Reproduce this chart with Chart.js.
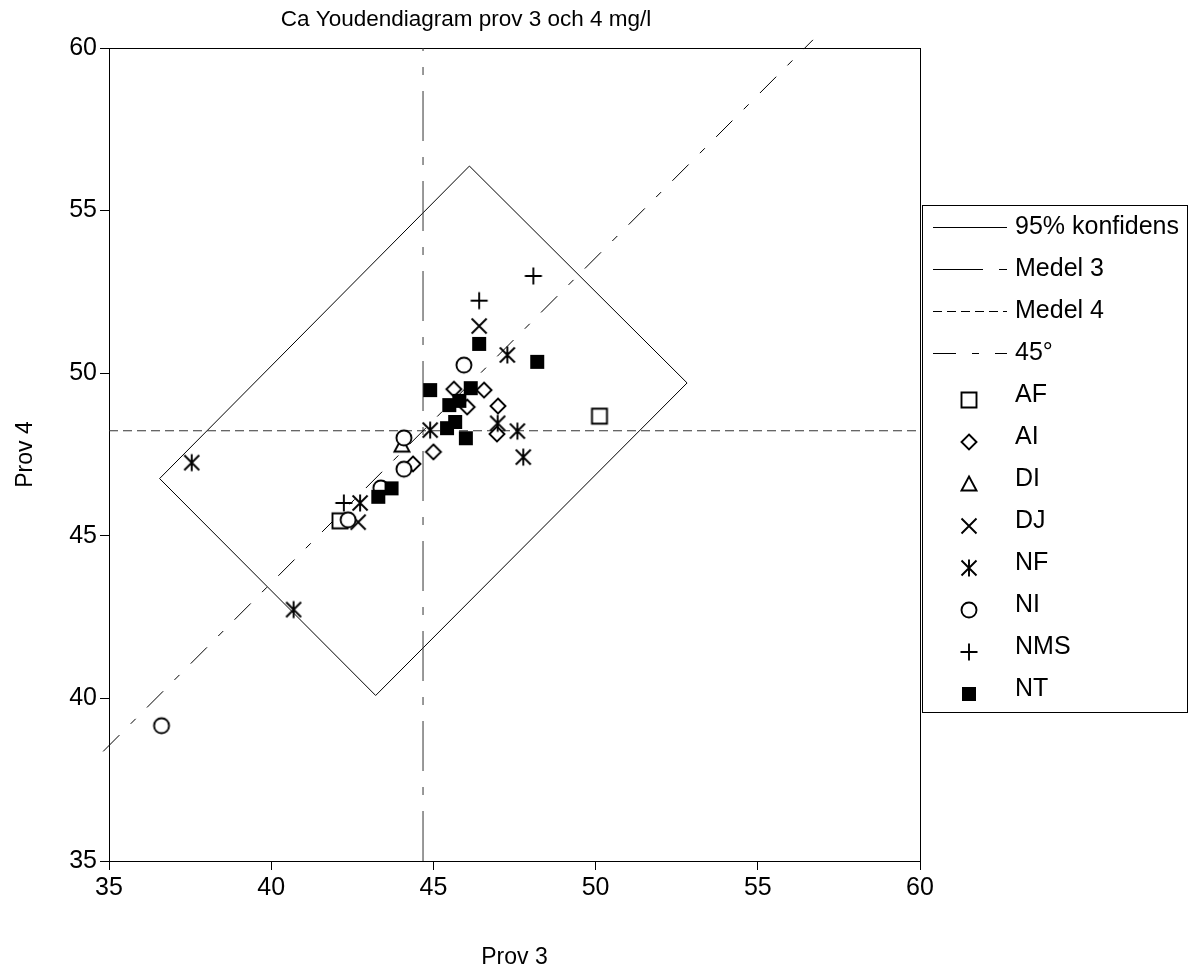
<!DOCTYPE html>
<html>
<head>
<meta charset="utf-8">
<title>Ca Youdendiagram</title>
<script src="https://cdn.jsdelivr.net/npm/chart.js"></script>
<style>
  html, body { margin: 0; padding: 0; background: #fff; }
  #wrap { width: 1192px; height: 979px; }
</style>
</head>
<body>
<div id="wrap"><canvas id="youden"></canvas></div>
<script>
// Youdendiagram för Ca, prov 3 mot prov 4 (mg/l)

const titleText = 'Ca Youdendiagram prov 3 och 4 mg/l';
const xTitle = 'Prov 3';
const yTitle = 'Prov 4';
const axisMin = 35, axisMax = 60, axisStep = 5;

// medelvärden för proverna
const medel3 = 44.68;
const medel4 = 48.23;

// 95% konfidens, rektangelns hörn (sluten kurva)
const konfX = [46.11, 52.82, 43.22, 36.56, 46.11];
const konfY = [56.37, 49.70, 40.09, 46.76, 56.37];

// 45° linjen genom medelpunkten
const linje45X = [34.82, 56.70];
const linje45Y = [38.37, 60.25];

// laboratoriernas resultat
const afX = [50.12, 42.12];
const afY = [48.68, 45.46];

const aiX = [45.63, 46.56, 46.04, 46.99, 45.00, 44.37, 46.96];
const aiY = [49.51, 49.48, 48.96, 48.99, 47.58, 47.21, 48.13];

const diX = [44.03];
const diY = [47.79];

const djX = [46.41, 42.68];
const djY = [51.45, 45.42];

const nfX = [37.55, 40.69, 44.90, 46.98, 47.59, 47.77, 47.28, 42.74];
const nfY = [47.25, 42.73, 48.25, 48.46, 48.22, 47.42, 50.56, 46.01];

const niX = [36.62, 45.94, 44.09, 44.09, 42.37, 43.38];
const niY = [39.16, 50.25, 48.01, 47.05, 45.49, 46.47];

const nmsX = [48.08, 46.41, 42.24];
const nmsY = [52.99, 52.23, 46.01];

const ntX = [46.41, 48.20, 44.90, 46.15, 45.49, 45.80, 45.42, 45.67, 46.00, 43.30, 43.71];
const ntY = [50.90, 50.35, 49.48, 49.54, 49.02, 49.15, 48.31, 48.50, 48.00, 46.20, 46.46];

const fontFamily = '"Liberation Sans", Arial, sans-serif';

function pts(xs, ys) {
    return xs.map((x, i) => ({ x: x, y: ys[i] }));
}

// markörer ritas på egna små canvas, som i Excel med vit bakgrund
function marker(kind) {
    const c = document.createElement('canvas');
    c.width = 24; c.height = 24;
    const g = c.getContext('2d');
    g.translate(12, 12);
    g.strokeStyle = '#000';
    g.fillStyle = '#fff';
    g.lineWidth = 1.9;
    g.beginPath();
    if (kind === 'square') {
        g.rect(-7.5, -7.5, 15, 15);
        g.fill(); g.stroke();
    } else if (kind === 'diamond') {
        g.moveTo(0, -7.5); g.lineTo(7.5, 0); g.lineTo(0, 7.5); g.lineTo(-7.5, 0); g.closePath();
        g.fill(); g.stroke();
    } else if (kind === 'triangle') {
        g.moveTo(0, -7.5); g.lineTo(7.5, 6.5); g.lineTo(-7.5, 6.5); g.closePath();
        g.fill(); g.stroke();
    } else if (kind === 'x') {
        g.moveTo(-7.5, -7.5); g.lineTo(7.5, 7.5); g.moveTo(7.5, -7.5); g.lineTo(-7.5, 7.5);
        g.stroke();
    } else if (kind === 'star') {
        g.moveTo(-7.5, -7.5); g.lineTo(7.5, 7.5); g.moveTo(7.5, -7.5); g.lineTo(-7.5, 7.5);
        g.moveTo(0, -8.5); g.lineTo(0, 8.5);
        g.stroke();
    } else if (kind === 'circle') {
        g.arc(0, 0, 7.5, 0, Math.PI * 2);
        g.fill(); g.stroke();
    } else if (kind === 'plus') {
        g.moveTo(-8.5, 0); g.lineTo(8.5, 0); g.moveTo(0, -8.5); g.lineTo(0, 8.5);
        g.stroke();
    } else if (kind === 'filled') {
        g.fillStyle = '#000';
        g.fillRect(-7, -7, 14, 14);
    }
    return c;
}

function lineSet(label, xs, ys, dash, order, extra) {
    return Object.assign({
        label: label,
        data: pts(xs, ys),
        showLine: true,
        borderColor: '#000',
        borderWidth: 1,
        borderDash: dash,
        pointRadius: 0,
        fill: false,
        order: order
    }, extra || {});
}

function markerSet(label, xs, ys, kind, order) {
    return {
        label: label,
        data: pts(xs, ys),
        showLine: false,
        pointStyle: marker(kind),
        pointRadius: 8,
        order: order
    };
}

const datasets = [
    lineSet('95% konfidens', konfX, konfY, [], 100),
    lineSet('Medel 3', [medel3, medel3], [axisMin, axisMax], [50, 16, 8, 16], 99, { borderColor: '#333' }),
    lineSet('Medel 4', [axisMin, axisMax], [medel4, medel4], [9, 5], 98, { borderColor: '#333' }),
    lineSet('45°', linje45X, linje45Y, [23, 16, 7, 16], 97, { clip: false }),
    markerSet('AF', afX, afY, 'square', 8),
    markerSet('AI', aiX, aiY, 'diamond', 7),
    markerSet('DI', diX, diY, 'triangle', 6),
    markerSet('DJ', djX, djY, 'x', 5),
    markerSet('NF', nfX, nfY, 'star', 4),
    markerSet('NI', niX, niY, 'circle', 3),
    markerSet('NMS', nmsX, nmsY, 'plus', 2),
    markerSet('NT', ntX, ntY, 'filled', 1)
];

// ram runt diagramytan
const plotFrame = {
    id: 'plotFrame',
    beforeDatasetsDraw(chart) {
        const { ctx, chartArea: a } = chart;
        ctx.save();
        ctx.strokeStyle = '#000';
        ctx.lineWidth = 1;
        ctx.strokeRect(a.left + 0.5, a.top + 0.5, a.right - a.left, a.bottom - a.top);
        ctx.restore();
    }
};

// förklaring till höger, i en ruta
const boxLegend = {
    id: 'boxLegend',
    afterDraw(chart) {
        const ctx = chart.ctx;
        const box = { left: 922, top: 205, width: 265, height: 507 };
        const rowTop = 227, rowStep = 42;
        const lineX0 = 933, lineX1 = 1007, markX = 969, textX = 1015;
        ctx.save();
        ctx.fillStyle = '#fff';
        ctx.fillRect(box.left, box.top, box.width, box.height);
        ctx.strokeStyle = '#000';
        ctx.lineWidth = 1;
        ctx.strokeRect(box.left + 0.5, box.top + 0.5, box.width, box.height);
        ctx.font = '25px ' + fontFamily;
        ctx.textBaseline = 'middle';
        ctx.fillStyle = '#000';
        chart.data.datasets.forEach((ds, i) => {
            const y = rowTop + i * rowStep;
            if (ds.showLine) {
                ctx.save();
                ctx.setLineDash(ds.borderDash);
                ctx.strokeStyle = '#000';
                ctx.lineWidth = 1;
                ctx.beginPath();
                ctx.moveTo(lineX0, y + 0.5);
                ctx.lineTo(lineX1, y + 0.5);
                ctx.stroke();
                ctx.restore();
            } else {
                const m = ds.pointStyle;
                ctx.drawImage(m, Math.round(markX - m.width / 2), Math.round(y + 5 - m.height / 2));
            }
            ctx.fillText(ds.label, textX, y);
        });
        ctx.restore();
    }
};

function axis(title, axisId) {
    return {
        type: 'linear',
        min: axisMin,
        max: axisMax,
        ticks: {
            stepSize: axisStep,
            color: '#000',
            padding: 3,
            font: { size: 25, family: fontFamily }
        },
        grid: {
            drawOnChartArea: false,
            drawTicks: true,
            tickLength: 9,
            color: '#000'
        },
        border: { color: '#000', width: 1 },
        title: {
            display: true,
            text: title,
            color: '#000',
            font: { size: 23, family: fontFamily },
            padding: axisId === 'x' ? { top: 0, bottom: 8 } : { top: 0, bottom: 0 }
        },
        afterFit(scale) {
            if (axisId === 'x') scale.height = 118;
            else scale.width = 97;
        }
    };
}

new Chart(document.getElementById('youden'), {
    type: 'scatter',
    data: { datasets: datasets },
    options: {
        responsive: true,
        maintainAspectRatio: false,
        animation: false,
        layout: { padding: { left: 12, right: 272, top: 0, bottom: 0 } },
        scales: {
            x: axis(xTitle, 'x'),
            y: axis(yTitle, 'y')
        },
        plugins: {
            legend: { display: false },
            tooltip: { enabled: false },
            title: {
                display: true,
                text: titleText,
                color: '#000',
                font: { size: 22.5, weight: 'normal', family: fontFamily },
                padding: { top: 6, bottom: 15 }
            }
        }
    },
    plugins: [plotFrame, boxLegend]
});
</script>
</body>
</html>
